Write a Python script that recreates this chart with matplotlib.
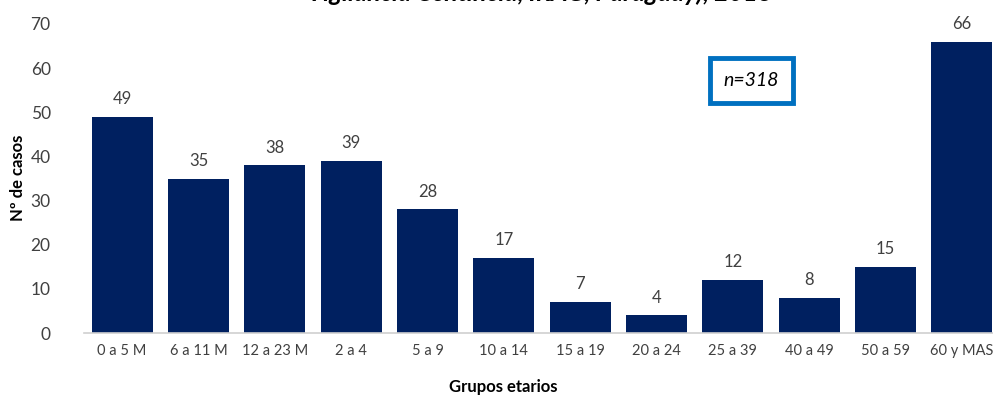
import numpy as np
import matplotlib.pyplot as plt
from matplotlib.patches import Rectangle

plt.rcParams['font.family'] = ['Lato', 'DejaVu Sans']

grupos = ['0 a 5 M', '6 a 11 M', '12 a 23 M', '2 a 4', '5 a 9', '10 a 14',
          '15 a 19', '20 a 24', '25 a 39', '40 a 49', '50 a 59', '60 y MAS']
casos = [49, 35, 38, 39, 28, 17, 7, 4, 12, 8, 15, 66]
yticks = [0, 10, 20, 30, 40, 50, 60, 70]

W, H = 993, 397
fig = plt.figure(figsize=(W / 100, H / 100), dpi=100)
ax = fig.add_axes([84 / W, 1 - 333 / H, (1000 - 84) / W, (333 - 24) / H])

x = np.arange(len(grupos))
bars = ax.bar(x, casos, width=0.8, color='#002060', zorder=2)
for xi, v in zip(x, casos):
    ax.text(xi, v + 2.2, str(v), ha='center', va='bottom', fontsize=12, color='#404040')

ax.set_xlim(-0.5, len(grupos) - 0.5)
ax.set_ylim(0, 70)
ax.set_yticks(yticks)
ax.set_xticks(x)
ax.set_xticklabels(grupos, fontsize=10.5, color='#404040')
ax.tick_params(axis='y', labelsize=12.5, colors='#404040', length=0, pad=24)
ax.tick_params(axis='x', length=0, pad=8)
for s in ['top', 'right', 'left']:
    ax.spines[s].set_visible(False)
ax.spines['bottom'].set_color('#d0d0d0')
ax.spines['bottom'].set_linewidth(1.2)

fig.text(18 / W, 1 - 178 / H, 'Nº de casos', rotation=90, ha='center', va='center',
         fontsize=12, fontweight='bold')
fig.text(503 / W, 1 - 387 / H, 'Grupos etarios', ha='center', va='center',
         fontsize=12, fontweight='bold')
fig.text(540 / W, 1 - 5 / H, 'Vigilancia Centinela, IRAG, Paraguay), 2018', ha='center',
         va='bottom', fontsize=18, fontweight='bold', style='italic')

fig.patches.append(Rectangle((710 / W, 1 - 103 / H), 83 / W, 45 / H, transform=fig.transFigure,
                             fill=False, edgecolor='#0070C0', linewidth=3.5))
fig.text(751 / W, 1 - 80 / H, 'n=318', ha='center', va='center', fontsize=14, style='italic')

plt.savefig('out.png', dpi=100)
plt.close()
